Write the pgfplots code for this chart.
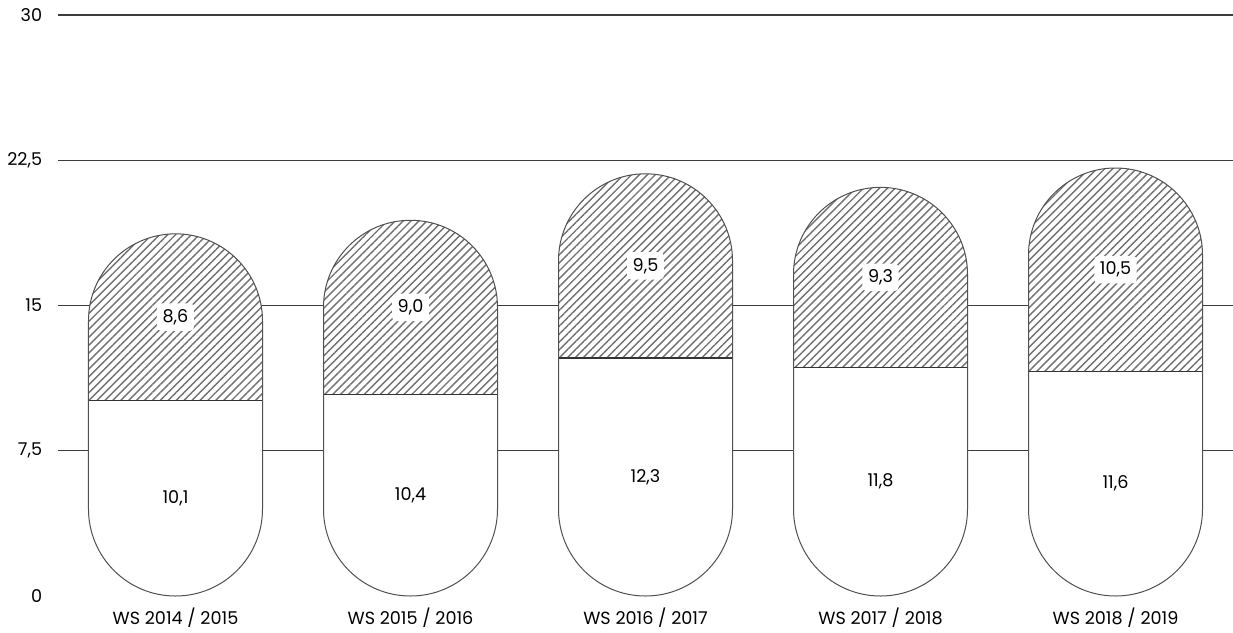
\documentclass[border=0pt]{standalone}
\usepackage{fontspec}
\setmainfont{Poppins}
\usepackage{pgfplots}
\pgfplotsset{compat=1.18}
\usepackage{pgfplotstable}
\usetikzlibrary{patterns.meta}

\definecolor{gridgray}{HTML}{3C3C3C}
\definecolor{edgegray}{HTML}{505050}
\definecolor{hatchgray}{HTML}{707070}

% students per winter semester: lower (plain) and upper (hatched) part
\pgfplotstableread{
x low high
0 10.1 8.6
1 10.4 9.0
2 12.3 9.5
3 11.8 9.3
4 11.6 10.5
}\semesters

\begin{document}
\begin{tikzpicture}
\begin{axis}[
  scale only axis,
  width=587.5pt, height=290.5pt,
  xmin=-0.5, xmax=4.5,
  ymin=0, ymax=30,
  clip=false,
  axis line style={draw=none},
  tick style={draw=none},
  ytick={7.5,15,22.5,30},
  extra y ticks={0},
  extra y tick style={grid=none},
  ymajorgrids,
  grid style={gridgray, line width=0.6pt},
  xtick={0,...,4},
  xticklabels={WS 2014 / 2015, WS 2015 / 2016, WS 2016 / 2017, WS 2017 / 2018, WS 2018 / 2019},
  /pgf/number format/use comma,
  /pgf/number format/assume math mode=true,
  ticklabel style={font=\fontsize{8.8}{11}\selectfont},
  yticklabel style={anchor=east, xshift=-4.4pt},
  xticklabel style={yshift=-2.5pt},
  pill/.style={ybar, bar width=87pt, bar shift=0pt, rounded corners=43.49pt},
  block/.style={ybar, bar width=87pt, bar shift=0pt, stack plots=y},
  value/.style={only marks, mark=none,
    nodes near coords={\pgfmathprintnumber[fixed, fixed zerofill, precision=1, use comma, assume math mode=true]{\pgfplotspointmeta}},
    every node near coord/.append style={anchor=center, font=\fontsize{8.8}{11}\selectfont,
      fill=white, rounded corners=2pt, inner xsep=2.8pt, inner ysep=3pt}},
]
% full pill, hatched
\addplot[pill, fill=white, draw=none] table[x=x, y expr=\thisrow{low}+\thisrow{high}] {\semesters};
\addplot[pill, draw=none, pattern={Lines[angle=45, distance=2.8pt, line width=0.7pt]}, pattern color=hatchgray]
  table[x=x, y expr=\thisrow{low}+\thisrow{high}] {\semesters};
% plain lower part: rounded bottom, flat top
\addplot[pill, fill=white, draw=none] table[x=x, y=low] {\semesters};
\addplot[block, draw=none, fill=none] table[x=x, y expr=\thisrow{low}/2] {\semesters};
\addplot[block, fill=white, draw=none] table[x=x, y expr=\thisrow{low}/2] {\semesters};
% dividing line between the two parts
\addplot[block, fill=none, draw=black!80, line width=0.7pt] table[x=x, y expr=0] {\semesters};
% outline of each pill
\addplot[pill, fill=none, draw=edgegray, line width=0.5pt] table[x=x, y expr=\thisrow{low}+\thisrow{high}] {\semesters};
% value labels
\addplot[value, point meta=\thisrow{low}] table[x=x, y expr=\thisrow{low}/2] {\semesters};
\addplot[value, point meta=\thisrow{high}] table[x=x, y expr=\thisrow{low}+\thisrow{high}/2] {\semesters};
\end{axis}
\pgfresetboundingbox
\path ([xshift=-29pt, yshift=-18pt]current axis.south west) rectangle ([yshift=7.5pt]current axis.north east);
\end{tikzpicture}
\end{document}
